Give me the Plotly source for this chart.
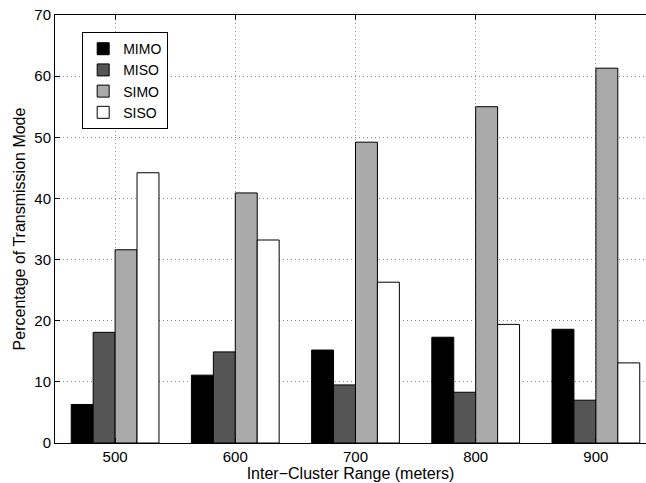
import plotly.graph_objects as go

ranges = [500, 600, 700, 800, 900]
mimo = [6.3, 11.1, 15.2, 17.3, 18.6]
miso = [18.1, 14.9, 9.5, 8.3, 7.0]
simo = [31.6, 40.9, 49.2, 55.0, 61.3]
siso = [44.2, 33.2, 26.3, 19.4, 13.1]

series = [("MIMO", mimo, "#000000"), ("MISO", miso, "#555555"),
          ("SIMO", simo, "#aaaaaa"), ("SISO", siso, "#ffffff")]

fig = go.Figure()
for name, vals, col in series:
    fig.add_trace(go.Bar(x=ranges, y=vals, name=name,
                         marker=dict(color=col, line=dict(color="#000000", width=1))))

font = "Liberation Sans, Arial, Helvetica, sans-serif"
grid = dict(showgrid=True, gridcolor="#8c8c8c", griddash="1px,3px", gridwidth=1)
fig.update_layout(
    width=646, height=483,
    margin=dict(l=55, r=0, t=15, b=40, autoexpand=False),
    paper_bgcolor="white", plot_bgcolor="white",
    barmode="group", bargap=0.27, bargroupgap=0,
    font=dict(family=font, size=15, color="#000000"),
    showlegend=True,
    legend=dict(x=0.046, y=0.96, xanchor="left", yanchor="top",
                bgcolor="white", bordercolor="#000000", borderwidth=1,
                font=dict(size=14), tracegroupgap=0, itemwidth=30),
    xaxis=dict(range=[450, 941.7], tickvals=ranges, ticktext=[str(r) for r in ranges],
               automargin=False,
               ticks="inside", ticklen=5, tickcolor="#000000",
               showline=True, linecolor="#000000", linewidth=1, mirror="ticks",
               zeroline=False,
               title=dict(text="Inter\u2212Cluster Range (meters)", font=dict(size=16), standoff=0),
               tickfont=dict(size=15), **grid),
    yaxis=dict(range=[0, 70], tickvals=list(range(0, 71, 10)),
               automargin=False,
               ticks="inside", ticklen=5, tickcolor="#000000",
               showline=True, linecolor="#000000", linewidth=1, mirror=False,
               zeroline=False,
               title=dict(text="Percentage of Transmission Mode", font=dict(size=16), standoff=4),
               tickfont=dict(size=15), **grid),
)

fig.write_html("out.html", config={"displayModeBar": False},
               post_script="document.body.style.margin='0';document.body.style.overflow='hidden';")
